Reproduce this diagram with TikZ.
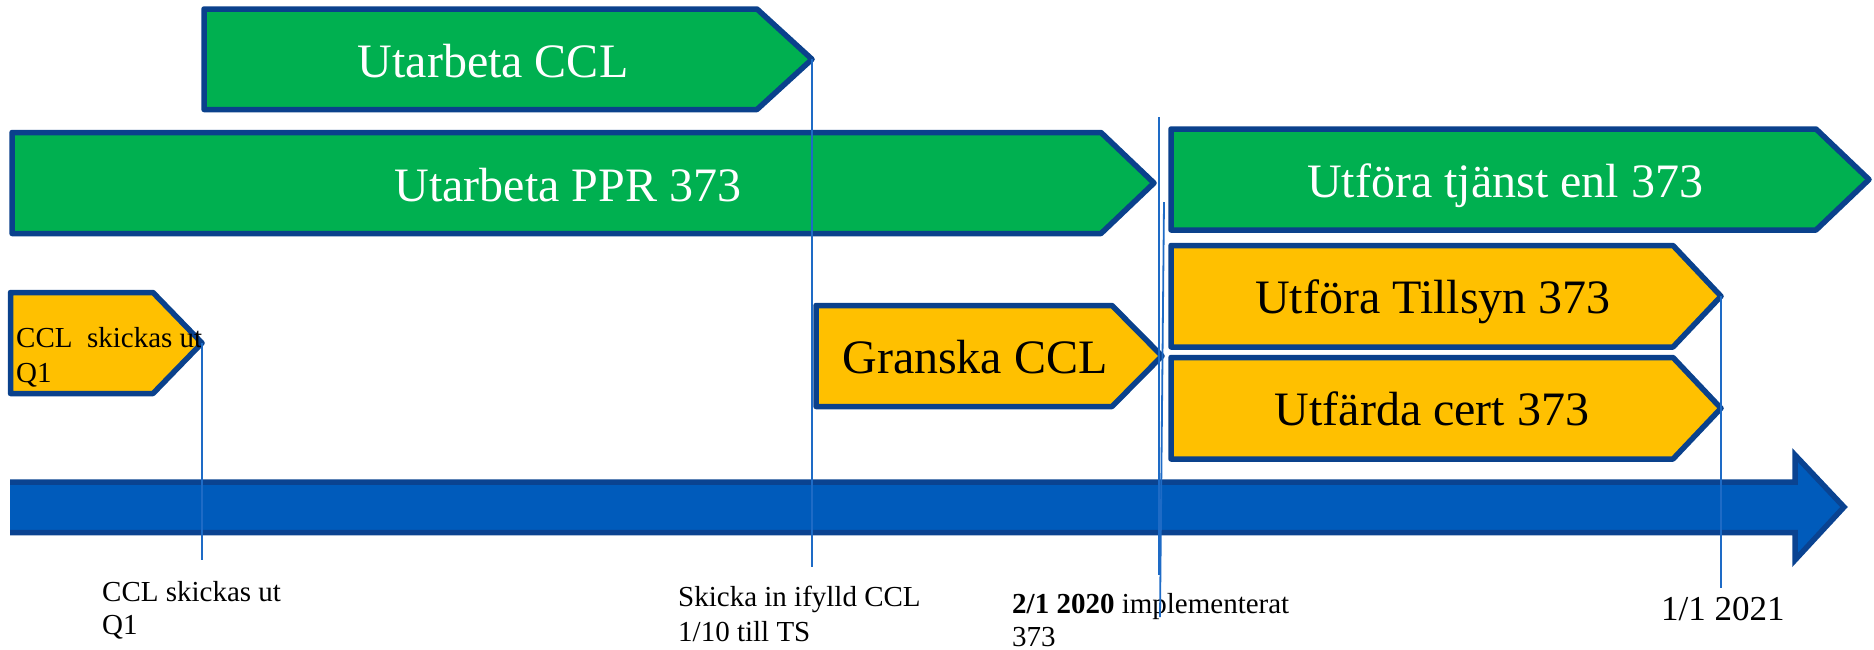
\documentclass[tikz,border=0pt]{standalone}
\usepackage{fontspec}
\setmainfont{Liberation Serif}

\definecolor{taskgreen}{HTML}{00B050}
\definecolor{taskyellow}{HTML}{FFC000}
\definecolor{taskedge}{HTML}{0A418C}
\definecolor{axisfill}{HTML}{005BBB}
\definecolor{axisedge}{HTML}{0A4391}
\definecolor{markline}{HTML}{1E6BC6}

\tikzset{
  taskbox/.style={draw=taskedge, line width=5.5pt, line join=round},
  greenbox/.style={taskbox, fill=taskgreen},
  yellowbox/.style={taskbox, fill=taskyellow},
  bigtext/.style={font=\fontsize{48}{56}\selectfont, anchor=base, inner sep=0pt},
  note/.style={font=\fontsize{29}{33}\selectfont, anchor=base west, align=left, inner sep=0pt},
  datenote/.style={font=\fontsize{35}{40}\selectfont, anchor=base west, inner sep=0pt},
  markerline/.style={draw=markline, line width=1.8pt},
}

% pentagon task arrow: name, left x, top y, body right x, tip x, bottom y, style
\newcommand\taskarrow[7]{%
  \draw[#7] (#2,#3) -- (#4,#3) -- (#5,{(#3+#6)/2}) -- (#4,#6) -- (#2,#6) -- cycle;
  \coordinate (#1-tip) at (#5,{(#3+#6)/2});
}

\begin{document}
\begin{tikzpicture}[x=1pt, y=-1pt]
  \useasboundingbox (0,0) rectangle (1874,649);

  % task arrows
  \taskarrow{ccl}{204}{9}{757}{812}{109.5}{greenbox}
  \taskarrow{ppr}{12}{132.5}{1101}{1154}{233.5}{greenbox}
  \taskarrow{tjanst}{1171}{129}{1816}{1869}{230}{greenbox}
  \taskarrow{skickas}{10.5}{292.5}{153}{202}{393.5}{yellowbox}
  \taskarrow{granska}{816}{305.5}{1112}{1162}{406.5}{yellowbox}
  \taskarrow{tillsyn}{1171}{245.5}{1673}{1721}{347}{yellowbox}
  \taskarrow{cert}{1171}{357.5}{1673}{1721}{459}{yellowbox}

  % task labels
  \node[bigtext, white] (t-ccl) at (493,77) {Utarbeta CCL};
  \node[bigtext, white] (t-ppr) at (568,201) {Utarbeta PPR 373};
  \node[bigtext, white] (t-tjanst) at (1505,197) {Utföra tjänst enl 373};
  \node[bigtext] (t-granska) at (975,373) {Granska CCL};
  \node[bigtext] (t-tillsyn) at (1433,313) {Utföra Tillsyn 373};
  \node[bigtext] (t-cert) at (1432,425) {Utfärda cert 373};
  % two-line notes are anchored on the baseline of their last line
  \node[note, font=\fontsize{29}{35}\selectfont] (t-skickas) at (16,382) {CCL\ \ skickas ut\\Q1};

  % time axis
  \fill[axisfill] (10,482) -- (1795,482) -- (1795,455) -- (1844,507) -- (1795,560)
    -- (1795,532.5) -- (10,532.5) -- cycle;
  \draw[axisedge, line width=5.5pt, line join=miter] (10,482) -- (1795,482) -- (1795,455)
    -- (1844,507) -- (1795,560) -- (1795,532.5) -- (10,532.5);

  % milestone labels
  \node[note] (lab-q1) at (102,634) {CCL skickas ut\\Q1};
  \node[note, font=\fontsize{29}{35}\selectfont] (lab-ts) at (678,641) {Skicka in ifylld CCL\\1/10 till TS};
  \node[note] (lab-impl) at (1012,646) {\textbf{2/1 2020} implementerat\\373};
  \node[datenote] (lab-2021) at (1661,620) {1/1 2021};

  % milestone lines
  \coordinate (foot-q1) at (202,560);
  \coordinate (foot-ts) at (812,567);
  \coordinate (impl-top) at (1159,117);
  \coordinate (impl-foot) at (1159,575);
  \coordinate (impl2-top) at (1164,202);
  \coordinate (impl2-foot) at (1160,617);
  \coordinate (foot-2021) at (1721,588);
  \draw[markerline] (skickas-tip) -- (foot-q1);
  \draw[markerline] (ccl-tip) -- (foot-ts);
  \draw[markerline] (impl-top) -- (impl-foot);
  \draw[markerline] (impl2-top) -- (impl2-foot);
  \draw[markerline] (tillsyn-tip) -- (foot-2021);
\end{tikzpicture}
\end{document}
